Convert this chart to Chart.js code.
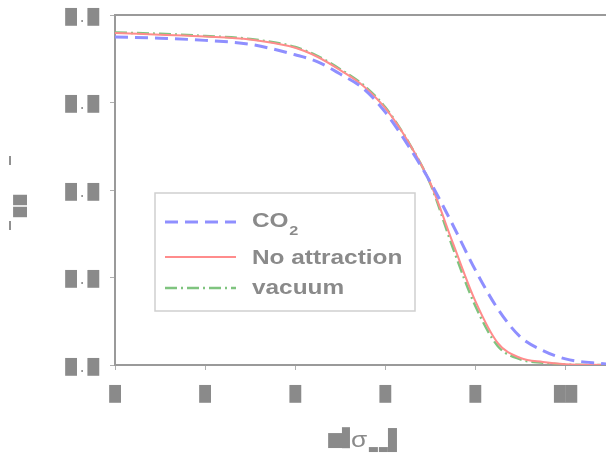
<!DOCTYPE html>
<html>
<head>
<meta charset="utf-8">
<script src="https://cdn.jsdelivr.net/npm/chart.js@4"></script>
<style>
  html, body { margin: 0; padding: 0; background: #ffffff; }
  canvas { display: block; }
</style>
</head>
<body>
<canvas id="c" width="606" height="456"></canvas>
<script>
// ---- data ----
const xValues = [0, 1, 2, 3, 4, 4.5, 5, 5.5, 6, 6.5, 7, 7.5, 8, 8.5, 9, 9.5, 10, 10.9];
const co2 = [0.750, 0.747, 0.742, 0.733, 0.709, 0.693, 0.665, 0.633, 0.578, 0.503, 0.418, 0.320, 0.217, 0.128, 0.064, 0.033, 0.014, 0.002];
const noAttraction = [0.759, 0.755, 0.751, 0.744, 0.725, 0.704, 0.674, 0.639, 0.587, 0.512, 0.416, 0.279, 0.146, 0.050, 0.016, 0.007, 0.002, 0.000];
const vacuum = [0.760, 0.757, 0.752, 0.745, 0.727, 0.706, 0.676, 0.641, 0.589, 0.512, 0.414, 0.268, 0.135, 0.043, 0.013, 0.005, 0.001, 0.000];

const seriesNames = ['CO', 'No attraction', 'vacuum'];
const xTickValues = [0, 2, 4, 6, 8, 10];
const xTickLabels = ['\u2588', '\u2588', '\u2588', '\u2588', '\u2588', '\u2588\u2588'];
const yTickValues = [0, 0.2, 0.4, 0.6, 0.8];
const yTickLabels = ['\u2588\u2009.\u2009\u2588', '\u2588\u2009.\u2009\u2588', '\u2588\u2009.\u2009\u2588', '\u2588\u2009.\u2009\u2588', '\u2588\u2009.\u2009\u2588'];

const GRAY = '#8a8a8a';
const AXIS = '#9a9a9a';

function pts(ys) { return xValues.map((x, i) => ({ x: x, y: ys[i] })); }

function drawFit(ctx, str, x, y, w, h, font) {
  ctx.save();
  ctx.font = font || '100px "DejaVu Sans"';
  ctx.textAlign = 'left';
  ctx.textBaseline = 'alphabetic';
  const m = ctx.measureText(str);
  const bw = m.actualBoundingBoxLeft + m.actualBoundingBoxRight;
  const bh = m.actualBoundingBoxAscent + m.actualBoundingBoxDescent;
  ctx.translate(x, y);
  ctx.scale(w / bw, h / bh);
  ctx.fillText(str, m.actualBoundingBoxLeft, m.actualBoundingBoxAscent);
  ctx.restore();
}

const decor = {
  id: 'decor',
  afterDraw(chart) {
    const ctx = chart.ctx;
    const a = chart.chartArea;
    ctx.save();
    // top frame line
    ctx.strokeStyle = AXIS;
    ctx.lineWidth = 2;
    ctx.beginPath();
    ctx.moveTo(a.left - 1, a.top);
    ctx.lineTo(chart.width, a.top);
    ctx.stroke();

    // axis titles (masked glyphs)
    ctx.fillStyle = GRAY;
    drawFit(ctx, '\u2588', 328, 433, 14, 15);
    drawFit(ctx, '\u2588', 342, 427, 8, 21);
    drawFit(ctx, '\u03c3', 352, 435, 15, 12, '100px "Liberation Sans"');
    drawFit(ctx, '\u2588', 369, 447, 9, 5);
    drawFit(ctx, '\u2588', 379, 447, 9, 5);
    drawFit(ctx, '\u2588', 388, 428, 9, 24);

    drawFit(ctx, '|', 9, 157, 2, 8);
    drawFit(ctx, '\u2588', 13, 195, 14, 10.5);
    drawFit(ctx, '\u2588', 13, 206.5, 14, 10.5);
    drawFit(ctx, '|', 9, 222, 2, 8);

    // legend box
    const bx = 155, by = 193, bw = 260, bh = 118;
    ctx.fillStyle = '#ffffff';
    ctx.fillRect(bx, by, bw, bh);
    ctx.strokeStyle = '#cfcfcf';
    ctx.lineWidth = 1.5;
    ctx.strokeRect(bx, by, bw, bh);

    const rows = [222, 257, 288];
    const base = [227, 264, 294];
    chart.data.datasets.forEach((ds, i) => {
      ctx.save();
      ctx.strokeStyle = ds.borderColor;
      ctx.lineWidth = ds.borderWidth;
      ctx.setLineDash(ds.borderDash || []);
      ctx.beginPath();
      ctx.moveTo(165, rows[i]);
      ctx.lineTo(236, rows[i]);
      ctx.stroke();
      ctx.restore();

      ctx.save();
      ctx.fillStyle = GRAY;
      ctx.translate(252, base[i]);
      ctx.scale(1.25, 1);
      ctx.font = 'bold 19.5px "Liberation Sans"';
      ctx.textBaseline = 'alphabetic';
      ctx.fillText(seriesNames[i], 0, 0);
      if (i === 0) {
        const w = ctx.measureText(seriesNames[i]).width;
        ctx.font = 'bold 13px "Liberation Sans"';
        ctx.fillText('2', w + 0.5, 7.5);
      }
      ctx.restore();
    });
    ctx.restore();
  }
};

new Chart(document.getElementById('c'), {
  type: 'line',
  data: {
    datasets: [
      { label: 'CO2', data: pts(co2), borderColor: '#8f8fff', borderWidth: 3, borderDash: [13, 7] },
      { label: 'No attraction', data: pts(noAttraction), borderColor: '#ff8c8c', borderWidth: 2 },
      { label: 'vacuum', data: pts(vacuum), borderColor: '#7fc47f', borderWidth: 2.5, borderDash: [12, 4, 2, 4] }
    ]
  },
  options: {
    responsive: false,
    devicePixelRatio: 1,
    animation: false,
    elements: {
      point: { radius: 0 },
      line: { cubicInterpolationMode: 'monotone', fill: false }
    },
    layout: { padding: { left: 0, top: 15, right: 0, bottom: 0 } },
    plugins: { legend: { display: false }, tooltip: { enabled: false } },
    scales: {
      x: {
        type: 'linear',
        min: 0,
        max: 10.9,
        afterBuildTicks: (s) => { s.ticks = xTickValues.map(v => ({ value: v })); },
        afterFit: (s) => { s.height = 91; s.paddingLeft = 0; s.paddingRight = 0; },
        grid: { drawOnChartArea: false, drawTicks: true, tickLength: 5, color: '#b0b0b0', lineWidth: 1 },
        border: { display: true, color: AXIS, width: 2 },
        ticks: {
          color: GRAY,
          padding: 16,
          maxRotation: 0,
          autoSkip: false,
          font: { family: '"DejaVu Sans"', size: 15 },
          callback: (v, i) => xTickLabels[i]
        }
      },
      y: {
        type: 'linear',
        min: 0,
        max: 0.8,
        afterBuildTicks: (s) => { s.ticks = yTickValues.map(v => ({ value: v })); },
        afterFit: (s) => { s.width = 115; s.paddingTop = 0; s.paddingBottom = 0; },
        grid: { drawOnChartArea: false, drawTicks: true, tickLength: 5, color: '#b0b0b0', lineWidth: 1 },
        border: { display: true, color: AXIS, width: 2 },
        ticks: {
          color: GRAY,
          padding: 11,
          labelOffset: 3,
          autoSkip: false,
          font: { family: '"DejaVu Sans"', size: 15 },
          callback: (v, i) => yTickLabels[i]
        }
      }
    }
  },
  plugins: [decor]
});
</script>
</body>
</html>
